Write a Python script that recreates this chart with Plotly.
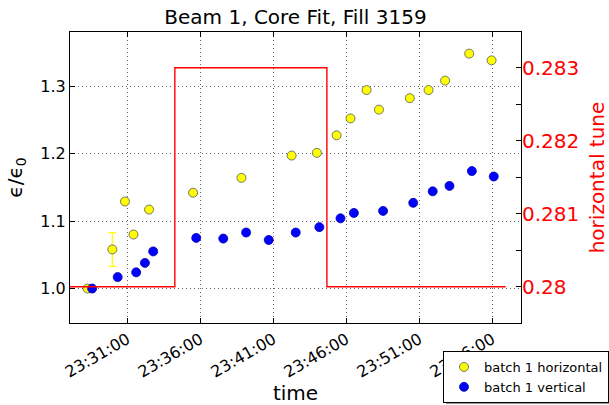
import plotly.graph_objects as go

DAY = "2012-10-13 "

# batch 1 horizontal emittance ratio
h_times = ["23:28:16", "23:29:58", "23:30:50", "23:31:25", "23:32:29", "23:35:30",
           "23:38:49", "23:42:15", "23:43:59", "23:45:20", "23:46:17", "23:47:23",
           "23:48:14", "23:50:21", "23:51:38", "23:52:46", "23:54:25", "23:55:57"]
h_values = [1.000, 1.058, 1.129, 1.080, 1.117, 1.142,
            1.164, 1.197, 1.201, 1.227, 1.252, 1.294,
            1.265, 1.282, 1.294, 1.308, 1.348, 1.338]
h_errors = [0, 0.025, 0, 0, 0, 0,
            0, 0, 0, 0, 0, 0,
            0, 0, 0, 0, 0, 0]

# batch 1 vertical emittance ratio
v_times = ["23:28:35", "23:30:20", "23:31:36", "23:32:12", "23:32:46", "23:35:43",
           "23:37:34", "23:39:08", "23:40:41", "23:42:32", "23:44:09", "23:45:36",
           "23:46:31", "23:48:31", "23:50:35", "23:51:55", "23:53:04", "23:54:36",
           "23:56:06"]
v_values = [1.000, 1.017, 1.024, 1.038, 1.055, 1.075,
            1.074, 1.083, 1.072, 1.083, 1.091, 1.104,
            1.112, 1.115, 1.127, 1.144, 1.152, 1.174,
            1.166]

# horizontal tune (step)
tune_times = ["23:26:00", "23:34:15", "23:44:40", "23:56:55"]
tune_values = [0.280, 0.283, 0.280, 0.280]

tune_tickvals = [0.280, 0.281, 0.282, 0.283]
tune_ticktext = ["0.28", "0.281", "0.282", "0.283"]
eps_tickvals = [1.0, 1.1, 1.2, 1.3]

FONT = "DejaVu Sans"
GRID = dict(showgrid=True, gridcolor="#666666", griddash="1px,3px", gridwidth=1)

W, H = 609, 405
PL, PR, PT, PB = 70, 521, 32, 323  # plot area in page pixels


def px_x(p):
    return (p - PL) / (PR - PL)


def px_y(p):
    return (PB - p) / (PB - PT)


fig = go.Figure()

fig.add_trace(go.Scatter(
    x=[DAY + t for t in tune_times], y=tune_values, yaxis="y2",
    mode="lines", line=dict(color="red", width=1.4, shape="hv"),
    showlegend=False, hoverinfo="skip"))

fig.add_trace(go.Scatter(
    x=[DAY + t for t in h_times], y=h_values, mode="markers",
    name="batch 1 horizontal",
    marker=dict(color="yellow", size=9, line=dict(color="#555555", width=0.8)),
    error_y=dict(type="data", array=h_errors, color="yellow", thickness=1.3, width=4)))

fig.add_trace(go.Scatter(
    x=[DAY + t for t in v_times], y=v_values, mode="markers",
    name="batch 1 vertical",
    marker=dict(color="blue", size=9, line=dict(color="#0000aa", width=0.8))))

fig.update_layout(
    width=W, height=H,
    margin=dict(l=PL, r=W - PR, t=PT, b=H - PB, autoexpand=False),
    paper_bgcolor="white", plot_bgcolor="white",
    font=dict(family=FONT, color="black", size=16),
    title=dict(text="Beam 1, Core Fit, Fill 3159", x=0.5, xref="paper",
               y=1 - 17 / H, yref="container", yanchor="middle",
               font=dict(size=20, family=FONT), automargin=False),
    xaxis=dict(
        type="date", automargin=False,
        range=[DAY + "23:27:04", DAY + "23:57:58"],
        tick0=DAY + "23:31:00", dtick=300000, tickformat="%H:%M:%S",
        tickangle=-30, tickfont=dict(size=16),
        showline=True, linecolor="black", linewidth=1, mirror="ticks",
        ticks="inside", ticklen=5, tickcolor="black",
        zeroline=False,
        title=dict(text="time", font=dict(size=20), standoff=2),
        **GRID,
    ),
    yaxis=dict(
        automargin=False,
        range=[0.949, 1.38], tickvals=eps_tickvals, tickformat=".1f",
        tickfont=dict(size=16),
        showline=True, linecolor="black", linewidth=1, mirror=True,
        ticks="inside", ticklen=5, tickcolor="black",
        zeroline=False,
        title=dict(text="ϵ/ϵ<sub>0</sub>", font=dict(size=20), standoff=12),
        **GRID,
    ),
    yaxis2=dict(
        automargin=False,
        overlaying="y", side="right",
        range=[0.279503, 0.28349],
        tickvals=tune_tickvals, ticktext=tune_ticktext,
        tickfont=dict(size=20, color="red"),
        ticks="inside", ticklen=5, tickcolor="black",
        minor=dict(dtick=0.0005, ticks="inside", ticklen=5, tickcolor="black", showgrid=False),
        showgrid=False, zeroline=False, showline=False,
        title=dict(text="horizontal tune", font=dict(size=20, color="red"), standoff=12),
    ),
    legend=dict(
        x=px_x(443), y=px_y(351), xanchor="left", yanchor="top",
        bgcolor="white", bordercolor="black", borderwidth=1,
        font=dict(size=13, family=FONT), tracegroupgap=0,
    ),
    shapes=[dict(type="rect", xref="paper", yref="paper",
                 x0=px_x(446), x1=px_x(612), y0=px_y(404), y1=px_y(354),
                 fillcolor="#9a9a9a", line=dict(width=0), layer="above")],
)

fig.write_html("out.html", config={"displayModeBar": False},
               post_script="document.body.style.margin='0px';")
